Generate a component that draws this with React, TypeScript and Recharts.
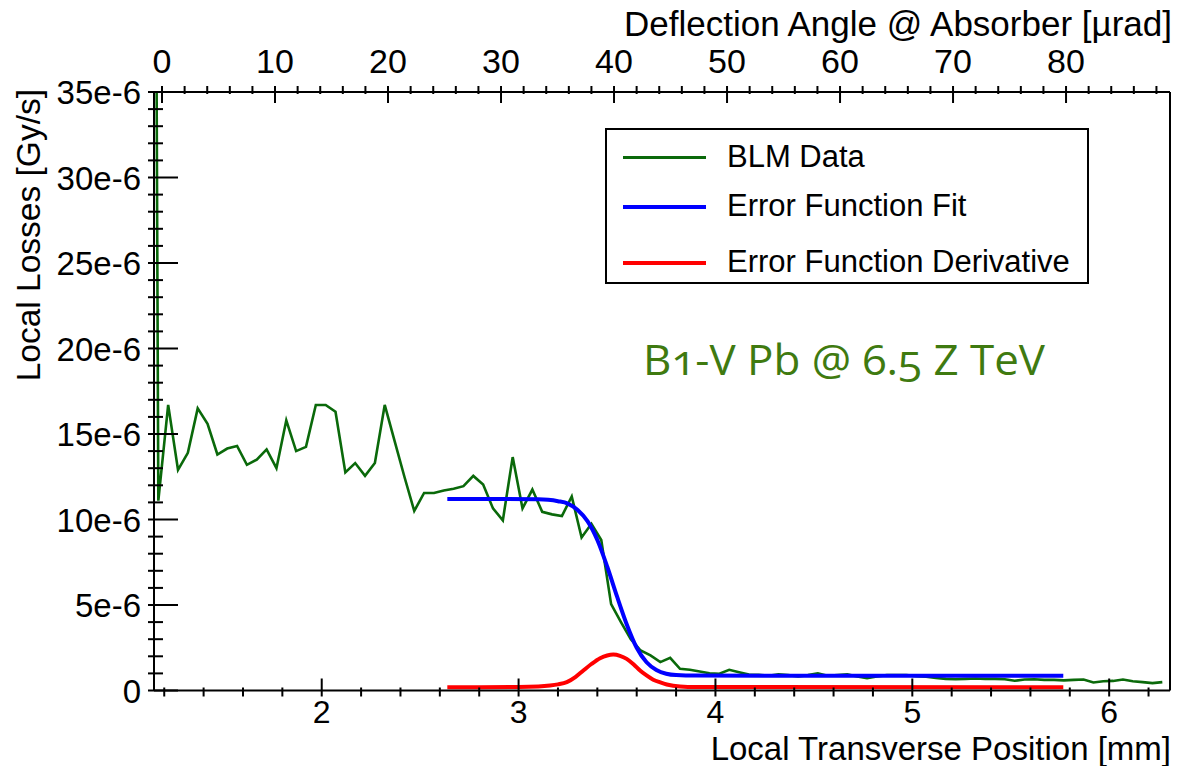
import { LineChart, Line, XAxis, YAxis, ReferenceLine, Legend } from 'recharts'

const FONT = '"Liberation Sans", Arial, Helvetica, sans-serif'

// BLM scan: local transverse position [mm]
const scanPositions = [
  1.12, 1.17, 1.22, 1.27, 1.32, 1.37, 1.42, 1.47, 1.52, 1.57,
  1.62, 1.67, 1.72, 1.77, 1.82, 1.87, 1.92, 1.97, 2.02, 2.07,
  2.12, 2.17, 2.22, 2.27, 2.32, 2.37, 2.42, 2.47, 2.52, 2.57,
  2.62, 2.67, 2.72, 2.77, 2.82, 2.87, 2.92, 2.97, 3.02, 3.07,
  3.12, 3.17, 3.22, 3.27, 3.32, 3.37, 3.42, 3.47, 3.52, 3.57,
  3.62, 3.67, 3.72, 3.77, 3.82, 3.87, 3.92, 3.97, 4.02, 4.07,
  4.12, 4.17, 4.22, 4.27, 4.32, 4.37, 4.42, 4.47, 4.52, 4.57,
  4.62, 4.67, 4.72, 4.77, 4.82, 4.87, 4.92, 4.97, 5.02, 5.07,
  5.12, 5.17, 5.22, 5.27, 5.32, 5.37, 5.42, 5.47, 5.52, 5.57,
  5.62, 5.67, 5.72, 5.77, 5.82, 5.87, 5.92, 5.97, 6.02, 6.07,
  6.12, 6.17, 6.22, 6.27,
]

// local losses [1e-6 Gy/s]
const blmLosses = [
  150, 11.1, 16.7, 12.9, 13.9, 16.5, 15.6, 13.8, 14.15, 14.3,
  13.2, 13.5, 14.1, 13.0, 15.8, 14.0, 14.25, 16.7, 16.7, 16.3,
  12.75, 13.3, 12.55, 13.3, 16.7, 14.6, 12.5, 10.5, 11.55, 11.55,
  11.7, 11.8, 11.95, 12.55, 12.05, 10.65, 9.95, 13.65, 10.65, 11.75,
  10.45, 10.3, 10.2, 11.35, 8.95, 9.75, 8.8, 5.05, 4.0, 3.0,
  2.34, 2.05, 1.66, 1.91, 1.27, 1.21, 1.11, 1.01, 0.98, 1.21,
  1.07, 0.94, 0.92, 0.86, 0.95, 0.9, 0.82, 0.9, 1.0, 0.86,
  0.9, 0.94, 0.82, 0.72, 0.82, 0.9, 0.9, 0.9, 0.84, 0.8,
  0.74, 0.68, 0.66, 0.68, 0.7, 0.68, 0.68, 0.66, 0.57, 0.64,
  0.66, 0.62, 0.62, 0.59, 0.62, 0.64, 0.47, 0.54, 0.56, 0.64,
  0.54, 0.49, 0.43, 0.49,
]

// error function fit
const fitPositions = [2.638, 2.9, 3.1, 3.15, 3.2, 3.25, 3.3, 3.35, 3.4, 3.45, 3.5, 3.55, 3.6, 3.65, 3.7, 3.75, 3.8, 3.9, 5.767]
const fitValues = [11.2, 11.2, 11.18, 11.15, 11.07, 10.93, 10.55, 9.9, 8.8, 7.25, 5.5, 3.85, 2.5, 1.65, 1.2, 0.98, 0.9, 0.87, 0.86]

// error function derivative
const derivPositions = [2.638, 3.0, 3.1, 3.16, 3.2, 3.245, 3.29, 3.329, 3.37, 3.414, 3.45, 3.481, 3.515, 3.549, 3.585, 3.617, 3.65, 3.684, 3.72, 3.753, 3.82, 3.9, 5.767]
const derivValues = [0.19, 0.2, 0.23, 0.29, 0.36, 0.49, 0.8, 1.17, 1.55, 1.89, 2.05, 2.1, 2.03, 1.85, 1.52, 1.17, 0.88, 0.63, 0.47, 0.35, 0.23, 0.2, 0.19]

const legendLabels = ['BLM Data', 'Error Function Fit', 'Error Function Derivative']
const seriesColors = ['#0a690a', '#0000ff', '#ff0000']

// axis ticks (major ones get labels)
const posTicks = Array.from({ length: 26 }, (_, i) => Math.round((1.2 + 0.2 * i) * 10) / 10)
const angleTicks = Array.from({ length: 45 }, (_, i) => i * 2)
const lossTicks = Array.from({ length: 36 }, (_, i) => i)

const blmData = scanPositions.map((x, i) => ({ x, y: blmLosses[i] }))
const fitData = fitPositions.map((x, i) => ({ x, y: fitValues[i] }))
const derivData = derivPositions.map((x, i) => ({ x, y: derivValues[i] }))
// invisible helper so the top (angle) axis gets a scale
const angleData = angleTicks.map(a => ({ a, y: 0 }))

function BottomTick({ x, y, payload }: any) {
  const major = Number.isInteger(payload.value)
  return (
    <g>
      <line x1={x} y1={y} x2={x} y2={y - (major ? 18 : 9)} stroke="#000" strokeWidth={2} />
      {major && (
        <text x={x} y={y + 26.5} textAnchor="middle" fontSize={32} fontFamily={FONT} fill="#000">
          {payload.value}
        </text>
      )}
    </g>
  )
}

function TopTick({ x, y, payload }: any) {
  const major = payload.value % 10 === 0
  return (
    <g>
      <line x1={x} y1={y} x2={x} y2={y + (major ? 17 : 8)} stroke="#000" strokeWidth={2} />
      {major && (
        <text x={x} y={y - 13} textAnchor="middle" fontSize={34} fontFamily={FONT} fill="#000">
          {payload.value}
        </text>
      )}
    </g>
  )
}

function LeftTick({ x, y, payload }: any) {
  const major = payload.value % 5 === 0
  return (
    <g>
      <line x1={x} y1={y} x2={x + (major ? 30 : 15)} y2={y} stroke="#000" strokeWidth={2} />
      {major && (
        <text x={x - 7} y={y + 12} textAnchor="end" fontSize={33} fontFamily={FONT} fill="#000">
          {payload.value === 0 ? '0' : `${payload.value}e-6`}
        </text>
      )}
    </g>
  )
}

function LegendBox() {
  const rows = [28, 77, 133]
  return (
    <div
      style={{
        width: 484,
        height: 156,
        border: '2px solid #000',
        boxSizing: 'border-box',
        background: '#fff',
        position: 'relative',
        fontFamily: FONT,
        fontSize: 31,
        color: '#000',
      }}
    >
      {legendLabels.map((label, i) => (
        <div key={label}>
          <div
            style={{
              position: 'absolute',
              left: 16,
              top: rows[i] - 2,
              width: 83,
              height: i === 0 ? 3 : 4,
              background: seriesColors[i],
            }}
          />
          <div style={{ position: 'absolute', left: 120, top: rows[i] - 19, lineHeight: '36px', whiteSpace: 'nowrap' }}>
            {label}
          </div>
        </div>
      ))}
    </div>
  )
}

export default function App() {
  return (
    <div style={{ position: 'absolute', left: 0, top: 0, width: 1178, height: 766, background: '#fff' }}>
      <LineChart width={1178} height={766} margin={{ top: 0, right: 8, bottom: 0, left: 0 }}>
        <XAxis
          xAxisId="pos"
          type="number"
          dataKey="x"
          domain={[1.148, 6.309]}
          allowDataOverflow
          ticks={posTicks}
          interval={0}
          height={75.5}
          tickLine={false}
          tickMargin={0}
          tick={<BottomTick />}
          axisLine={{ stroke: '#000', strokeWidth: 2 }}
          label={() => (
            <text x={1171} y={759.5} textAnchor="end" fontSize={33} fontFamily={FONT} fill="#000">
              Local Transverse Position [mm]
            </text>
          )}
        />
        <XAxis
          xAxisId="angle"
          orientation="top"
          type="number"
          dataKey="a"
          domain={[-0.71, 89.2]}
          allowDataOverflow
          ticks={angleTicks}
          interval={0}
          height={92}
          tickLine={false}
          tickMargin={0}
          tick={<TopTick />}
          axisLine={{ stroke: '#000', strokeWidth: 2 }}
          label={() => (
            <text x={1172} y={36} textAnchor="end" fontSize={35} fontFamily={FONT} fill="#000">
              Deflection Angle @ Absorber [µrad]
            </text>
          )}
        />
        <YAxis
          type="number"
          domain={[0, 35]}
          allowDataOverflow
          ticks={lossTicks}
          interval={0}
          width={154}
          tickLine={false}
          tickMargin={0}
          tick={<LeftTick />}
          axisLine={{ stroke: '#000', strokeWidth: 2 }}
          label={() => (
            <text
              transform="rotate(-90)"
              x={-89}
              y={40}
              textAnchor="end"
              fontSize={33.5}
              fontFamily={FONT}
              fill="#000"
            >
              Local Losses [Gy/s]
            </text>
          )}
        />
        <ReferenceLine xAxisId="pos" x={6.309} stroke="#000" strokeWidth={2} />
        <Line
          xAxisId="angle"
          data={angleData}
          dataKey="y"
          stroke="none"
          dot={false}
          legendType="none"
          isAnimationActive={false}
        />
        <Line
          xAxisId="pos"
          data={blmData}
          dataKey="y"
          type="linear"
          stroke={seriesColors[0]}
          strokeWidth={2.6}
          dot={false}
          isAnimationActive={false}
        />
        <Line
          xAxisId="pos"
          data={fitData}
          dataKey="y"
          type="monotone"
          stroke={seriesColors[1]}
          strokeWidth={4}
          dot={false}
          isAnimationActive={false}
        />
        <Line
          xAxisId="pos"
          data={derivData}
          dataKey="y"
          type="monotone"
          stroke={seriesColors[2]}
          strokeWidth={4}
          dot={false}
          isAnimationActive={false}
        />
        <Legend
          layout="horizontal"
          verticalAlign="middle"
          align="center"
          content={() => <LegendBox />}
          wrapperStyle={{ left: 605, top: 128, width: 484, height: 156 }}
        />
      </LineChart>
      <svg
        width={1178}
        height={766}
        style={{ position: 'absolute', left: 0, top: 0, pointerEvents: 'none' }}
      >
        <text
          x={643}
          y={375}
          fontSize={42}
          fontFamily='"Open Sans", "Noto Sans", sans-serif'
          fill="#3f7a10"
          textLength={402}
          lengthAdjust="spacingAndGlyphs"
          style={{ fontFeatureSettings: '"onum" 1' }}
        >
          B1-V Pb @ 6.5 Z TeV
        </text>
      </svg>
    </div>
  )
}
